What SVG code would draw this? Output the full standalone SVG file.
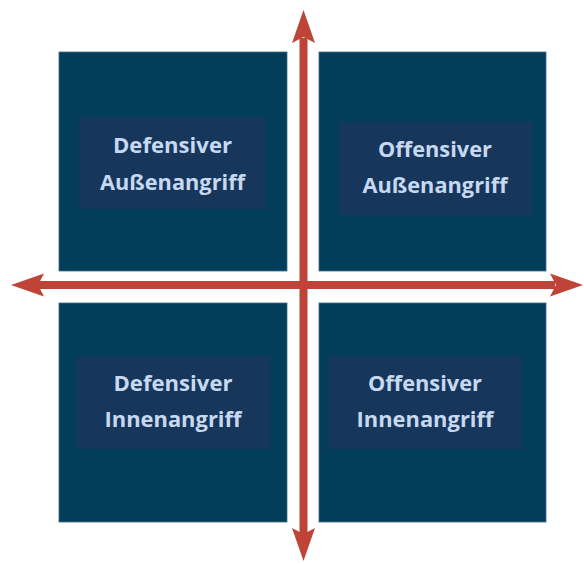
<svg xmlns="http://www.w3.org/2000/svg" width="584" height="564" viewBox="0 0 584 564">
  <style>
    .quad { fill: #023d5a; stroke: #3f6a80; stroke-width: 0.8; }
    .inner { fill: #17365c; }
    .lbl { font-family: "Open Sans", "Liberation Sans", sans-serif; font-weight: bold; font-size: 22px; fill: #c6d9f1; text-anchor: middle; }
    .axis { stroke: #bf4337; stroke-width: 8; fill: none; }
    .head { fill: #bf4337; }
  </style>
  <rect width="584" height="564" fill="#ffffff"/>
  <g id="q-def-aussen">
    <rect class="quad" x="59" y="52" width="228" height="219"/>
    <rect class="inner" x="79" y="117" width="187" height="92"/>
    <text class="lbl" x="172.5" y="153" textLength="119" lengthAdjust="spacingAndGlyphs">Defensiver</text>
    <text class="lbl" x="172.5" y="190" textLength="145" lengthAdjust="spacingAndGlyphs">Außenangriff</text>
  </g>
  <g id="q-off-aussen">
    <rect class="quad" x="319" y="52" width="227" height="219"/>
    <rect class="inner" x="339" y="122" width="193" height="93"/>
    <text class="lbl" x="435" y="157" textLength="114" lengthAdjust="spacingAndGlyphs">Offensiver</text>
    <text class="lbl" x="435" y="193" textLength="145" lengthAdjust="spacingAndGlyphs">Außenangriff</text>
  </g>
  <g id="q-def-innen">
    <rect class="quad" x="59" y="303" width="228" height="219"/>
    <rect class="inner" x="77" y="356" width="193" height="93"/>
    <text class="lbl" x="173" y="391" textLength="119" lengthAdjust="spacingAndGlyphs">Defensiver</text>
    <text class="lbl" x="173" y="427" textLength="137" lengthAdjust="spacingAndGlyphs">Innenangriff</text>
  </g>
  <g id="q-off-innen">
    <rect class="quad" x="319" y="303" width="227" height="219"/>
    <rect class="inner" x="329" y="356" width="193" height="93"/>
    <text class="lbl" x="425" y="391" textLength="114" lengthAdjust="spacingAndGlyphs">Offensiver</text>
    <text class="lbl" x="425" y="427" textLength="137" lengthAdjust="spacingAndGlyphs">Innenangriff</text>
  </g>
  <g id="connectors">
    <line class="axis" x1="303.5" y1="38" x2="303.5" y2="534"/>
    <line class="axis" x1="38" y1="285" x2="555" y2="285"/>
    <path class="head" d="M303.5,10 L315,43 L303.5,37 L292,43 Z"/>
    <path class="head" d="M303.5,561 L315,528 L303.5,534 L292,528 Z"/>
    <path class="head" d="M11,285 L44,273.5 L38,285 L44,296.5 Z"/>
    <path class="head" d="M583,285 L550,273.5 L556,285 L550,296.5 Z"/>
  </g>
</svg>
